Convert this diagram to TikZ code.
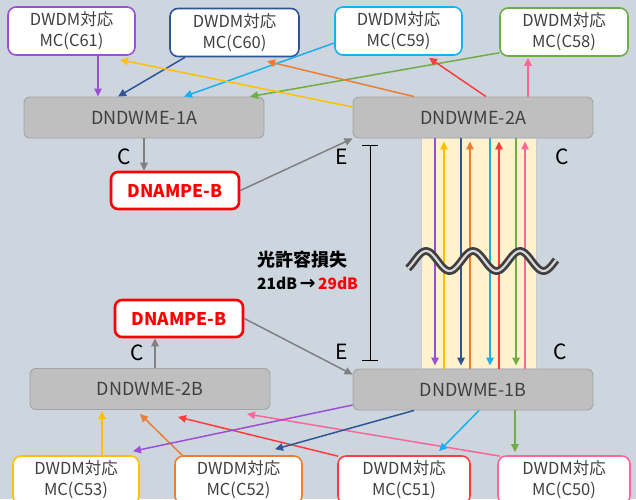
\documentclass[tikz,border=0pt]{standalone}
\usepackage{fontspec}
\setmainfont{Noto Sans CJK JP}
\newfontfamily\arrowfont{DejaVu Sans}
\usetikzlibrary{arrows.meta}

\definecolor{bgGray}{HTML}{CDD6DF}
\definecolor{boxGray}{HTML}{BFBFBF}
\definecolor{boxLine}{HTML}{A3A3A3}
\definecolor{txtGray}{HTML}{404040}
\definecolor{arrGray}{HTML}{808080}
\definecolor{bandBeige}{HTML}{FFF2CC}
\definecolor{ampRed}{HTML}{FF0000}
\definecolor{cPurple}{HTML}{9B4FD3}
\definecolor{cDblue}{HTML}{2F5597}
\definecolor{cLblue}{HTML}{18B0F0}
\definecolor{cGreen}{HTML}{70AD47}
\definecolor{cYellow}{HTML}{FFC000}
\definecolor{cOrange}{HTML}{ED7D31}
\definecolor{cRed}{HTML}{FF3B3B}
\definecolor{cPink}{HTML}{FF6699}

\begin{document}
\begin{tikzpicture}
[x=1pt,y=-1pt,
  mcDecorate/.style={shape=rectangle,rounded corners=8pt,draw,line width=1.6pt,
    fill=white,minimum height=48pt,align=center,text=txtGray,
    font=\fontsize{16.5}{21}\selectfont},
  boxDecorate/.style={shape=rectangle,rounded corners=6pt,draw=boxLine,line width=0.9pt,
    fill=boxGray,minimum width=240pt,minimum height=41pt,text=txtGray,
    font=\fontsize{18}{21}\selectfont},
  ampDecorate/.style={shape=rectangle,rounded corners=7pt,draw=ampRed,line width=2.6pt,
    fill=white,minimum width=128pt,minimum height=37pt,text=ampRed,
    font=\bfseries\fontsize{17.5}{20}\selectfont},
  lineDecorate/.style={-{Triangle[length=8pt,width=7.5pt]},line width=1.5pt},
  bandDecorate/.style={lineDecorate,shorten >=3pt},
  grayDecorate/.style={lineDecorate,draw=arrGray},
  portDecorate/.style={text=black,font=\fontsize{21}{24}\selectfont}]
%% background
\path[use as bounding box,fill=bgGray] (0,0) rectangle (636,499);
\clip (0,0) rectangle (636,499);
%% boxes
\foreach \nodename/\x/\y/\lbl in {
  dn1a/144/117.5/DNDWME-1A, dn2a/473/117.5/DNDWME-2A,
  dn2b/150/389/DNDWME-2B, dn1b/473/389.5/DNDWME-1B}
{
  \node (\nodename) at (\x,\y) [boxDecorate] {\lbl};
}
\foreach \num/\x/\y/\w/\col in {
  61/71.5/31/127/cPurple, 60/234.5/32.5/129/cDblue,
  59/398.5/31/127/cLblue, 58/564/32/128/cGreen,
  53/76/480/126/cYellow, 52/238.5/480/127/cOrange,
  51/404/480/132/cRed, 50/564/480/132/cPink}
{
  \node (mc\num) at (\x,\y) [mcDecorate,draw=\col,minimum width=\w pt] {DWDM対応\\MC(C\num)};
}
\node (ampA) at (175,190.5) [ampDecorate] {DNAMPE-B};
\node (ampB) at (179,318.5) [ampDecorate] {DNAMPE-B};
%% fibre band
\path[fill=bandBeige,draw=gray!40,line width=0.6pt]
  ([xshift=-52pt]dn2a.south) rectangle ([xshift=63pt]dn1b.north);
\path
\foreach \dx/\col in {-38/cPurple, -12/cDblue, 17/cLblue, 43/cGreen}
{
  ([xshift=\dx pt]dn2a.south) edge[bandDecorate,draw=\col] ([xshift=\dx pt]dn1b.north)
};
\path
\foreach \dx/\col in {-29/cYellow, -3/cOrange, 26/cRed, 52/cPink}
{
  ([xshift=\dx pt]dn1b.north) edge[bandDecorate,draw=\col] ([xshift=\dx pt]dn2a.south)
};
\draw[draw=black!75,line width=2.8pt,double=gray!30,double distance=2.2pt]
  plot[domain=408:556,samples=90,smooth] (\x,{261-10*cos((\x-426)*7.66)});
%% gray links
\draw[grayDecorate] (dn1a.south) -- (dn1a.south |- ampA.north);
\draw[grayDecorate] ([xshift=5pt]dn2b.north) -- ([xshift=-24pt]ampB.south);
\draw[grayDecorate] (ampA.east) -- (dn2a.south west);
\draw[grayDecorate] (ampB.east) -- ([yshift=-6pt]dn1b.north west);
%% coloured links
\path
\foreach \s/\sa/\e/\eb/\col in {
  mc61.south/{26.5,0}/dn1a.north/{-46,0}/cPurple,
  mc60.south/{-49.5,0}/dn1a.north/{-26,0}/cDblue,
  mc59.west/{0,12}/dn1a.north/{40,0}/cLblue,
  mc58.south west/{0,-4}/dn1a.north/{106,0}/cGreen,
  dn2a.west/{0,-10.5}/mc61.south/{48.5,4}/cYellow,
  dn2a.north/{-59,0}/mc60.south/{32.5,4}/cOrange,
  dn2a.north/{13,0}/mc59.south/{30.5,2}/cRed,
  dn2a.north/{55,0}/mc58.south/{-36,1}/cPink,
  mc53.north/{26,0}/dn2b.south/{-48,1}/cYellow,
  mc52.north west/{8,0}/dn2b.south/{-10,4}/cOrange,
  mc51.north west/{1,1}/dn2b.south/{28,7}/cRed,
  mc50.north west/{3,1}/dn2b.south/{97,4}/cPink,
  dn1b.west/{0,15.5}/mc53.north/{57,-4}/cPurple,
  dn1b.south/{-59,0}/mc52.north/{36.5,-6}/cDblue,
  dn1b.south/{6,0}/mc51.north/{35,-4}/cLblue,
  dn1b.south/{42,0}/mc50.north/{-49,-3}/cGreen}
{
  ([shift={(\sa)}]\s) edge[lineDecorate,draw=\col] ([shift={(\eb)}]\e)
};
%% loss range
\coordinate (lossTop) at (370,145);
\coordinate (lossBot) at (370,361);
\draw[{Bar[width=16pt]}-{Bar[width=16pt]},line width=0.9pt] (lossTop) -- (lossBot);
\node (lossTitle) at (257,260) [anchor=west,inner sep=0pt,font=\bfseries\fontsize{18}{20}\selectfont] {光許容損失};
\node (lossValue) at (257,283) [anchor=west,inner sep=0pt,font=\bfseries\fontsize{15.5}{17}\selectfont]
  {21dB\,{\arrowfont\bfseries\fontsize{19}{17}\selectfont →}\,\textcolor{ampRed}{29dB}};
%% port labels
\foreach \nodename/\x/\y/\lbl in {
  pc1/124/157/C, pe1/342/157/E, pc2/562/157/C,
  pe2/342/352/E, pc3/560/352/C, pc4/137/353/C}
{
  \node (\nodename) at (\x,\y) [portDecorate] {\lbl};
}
\end{tikzpicture}
\end{document}
